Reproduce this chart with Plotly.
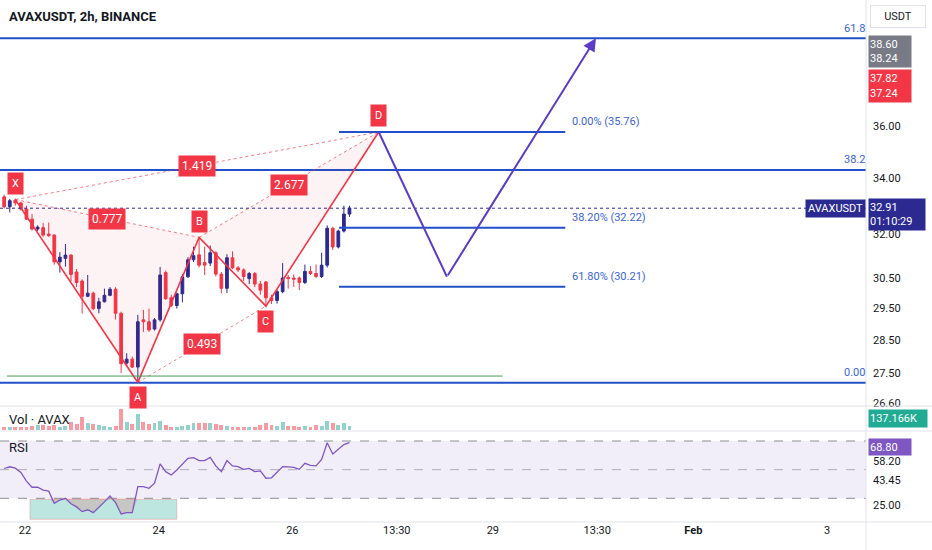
import numpy as np
import pandas as pd
import plotly.graph_objects as go

W, H = 932, 550
PLOT_W, PLOT_H = 866, 522   # plot area in px (price scale on the right, time scale below)

title_text = "AVAXUSDT, 2h, BINANCE"

# 2h candles
candle_start = "2024-01-21 16:30"
opens = [33.32, 32.96, 33.20, 33.10, 32.88, 32.52, 32.17, 32.22, 32.00, 31.96,
         31.04, 31.16, 31.27, 30.70, 30.40, 29.90, 30.00, 29.50, 29.72, 29.93,
         30.13, 29.35, 27.80, 27.92, 27.68, 29.14, 29.08, 28.85, 29.14, 30.68,
         29.85, 29.60, 29.98, 30.54, 31.11, 31.28, 31.02, 31.00, 31.35, 30.63,
         30.16, 31.18, 30.84, 30.77, 30.48, 30.65, 30.30, 30.37, 29.85, 29.76,
         30.05, 30.52, 30.50, 30.50, 30.35, 30.72, 30.65, 30.55, 30.93, 32.20,
         31.55, 32.10, 32.70]
highs = [33.40, 33.24, 33.26, 33.14, 33.00, 32.70, 32.30, 32.38, 32.40, 31.98,
         31.37, 31.65, 31.30, 30.80, 30.46, 30.60, 30.05, 29.85, 30.15, 30.20,
         30.20, 29.40, 28.10, 28.00, 29.30, 29.46, 29.50, 29.20, 30.87, 30.75,
         29.95, 30.02, 30.63, 31.20, 31.56, 31.88, 31.56, 31.60, 31.40, 30.70,
         31.30, 31.40, 30.90, 30.82, 30.70, 30.70, 30.40, 30.40, 29.95, 30.12,
         31.00, 30.60, 30.62, 30.55, 30.95, 30.90, 30.95, 31.35, 32.30, 32.25,
         32.15, 33.00, 33.00]
lows = [32.90, 32.76, 33.00, 32.82, 32.50, 32.12, 32.10, 31.90, 31.90, 30.95,
        30.68, 30.88, 30.40, 30.20, 29.34, 29.87, 29.45, 29.35, 29.70, 29.90,
        29.15, 27.50, 27.70, 27.65, 27.22, 28.76, 28.76, 28.80, 29.08, 29.78,
        29.55, 29.50, 29.70, 30.50, 31.04, 30.85, 30.60, 30.90, 30.55, 30.00,
        30.00, 30.80, 30.70, 30.40, 30.30, 30.20, 29.95, 29.58, 29.65, 29.66,
        30.00, 30.15, 30.20, 30.10, 30.30, 30.60, 30.50, 30.50, 30.85, 31.45,
        31.50, 32.05, 32.60]
closes = [32.96, 33.18, 33.10, 32.88, 32.52, 32.17, 32.24, 31.96, 31.94, 31.04,
          31.20, 31.27, 30.62, 30.35, 29.90, 30.00, 29.50, 29.72, 29.93, 30.13,
          29.35, 27.78, 27.92, 27.68, 29.08, 29.08, 28.82, 29.14, 30.60, 29.82,
          29.60, 29.98, 30.54, 31.11, 31.25, 30.93, 30.93, 31.35, 30.63, 30.16,
          31.18, 30.84, 30.77, 30.55, 30.65, 30.30, 30.10, 29.85, 29.76, 30.05,
          30.50, 30.48, 30.46, 30.35, 30.72, 30.65, 30.55, 30.93, 32.20, 31.55,
          32.10, 32.70, 32.91]
volumes = [10, 8, 8, 8, 10, 12, 15, 15, 12, 14,
           10, 12, 25, 18, 38, 22, 17, 15, 12, 10,
           12, 62, 25, 18, 48, 25, 18, 20, 28, 15,
           10, 10, 12, 15, 22, 22, 22, 22, 18, 15,
           12, 10, 10, 10, 10, 10, 15, 20, 15, 12,
           25, 12, 12, 10, 12, 8, 15, 12, 28, 22,
           15, 22, 12]
rsi = [50.8, 52, 51, 48, 42, 37.7, 37.7, 35.7, 35, 26.5,
       28.8, 30, 26.2, 24, 20.7, 22, 20, 23.5, 27.5, 31.6,
       27, 19.1, 20, 20, 38.1, 38.1, 37, 40.5, 54, 48.6,
       46.3, 49.8, 54, 57.9, 58.4, 56.3, 56.3, 58.6, 52.6, 48.6,
       56.3, 52.6, 52.1, 50.2, 50.9, 48.6, 49.1, 44, 44.3, 48,
       52.1, 52, 51.6, 50.2, 54.4, 53, 52.6, 57.2, 68.8, 60.9,
       64.5, 67.5, 68.8]
last_price = 32.91

# XABCD pattern
pat_names = ["X", "A", "B", "C", "D"]
pat_times = ["2024-01-21 20:30", "2024-01-23 16:30", "2024-01-24 14:30",
             "2024-01-25 14:30", "2024-01-27 07:00"]
pat_prices = [33.22, 27.22, 31.88, 29.58, 35.76]
pat_label_below = [False, True, False, True, False]
ratio_from = [0, 1, 2, 0]
ratio_to = [2, 3, 4, 4]
ratio_text = ["0.777", "0.493", "2.677", "1.419"]

# projected path
proj_times = ["2024-01-27 07:00", "2024-01-28 07:30", "2024-01-30 13:00"]
proj_prices = [35.76, 30.54, 39.61]

# fib retracement (short)
fib_x = ["2024-01-26 16:45", "2024-01-30 02:00"]
fib_levels = [35.76, 32.22, 30.21]
fib_labels = ["0.00% (35.76)", "38.20% (32.22)", "61.80% (30.21)"]

# fib levels across the whole chart
long_levels = [39.61, 34.31, 27.21]
long_labels = ["61.8", "38.2", "0.00"]

green_x = ["2024-01-21 17:30", "2024-01-29 03:30"]
green_level = 27.41

rsi_box_x = ["2024-01-22 01:45", "2024-01-24 06:30"]
rsi_box_y = [15.3, 29.3]

price_ticks = [26.6, 27.5, 28.5, 29.5, 30.5, 32, 34, 36]
rsi_ticks = [25, 43.45, 58.2]
rsi_tick_shift = [0, -1, -4]
time_ticks = ["2024-01-22", "2024-01-24", "2024-01-26", "2024-01-27 13:30",
              "2024-01-29", "2024-01-30 13:30", "2024-02-01", "2024-02-03"]
time_labels = ["22", "24", "26", "13:30", "29", "13:30", "<b>Feb</b>", "3"]
x_range = ["2024-01-21 15:00", "2024-02-03 14:00"]

UP = "#2B2A91"
DOWN = "#F23645"
BLUE = "#2250C8"
BLUE_TXT = "#3C64D8"
PURPLE = "#5B3CC4"
FONT = "Roboto, sans-serif"

times = pd.date_range(candle_start, periods=len(opens), freq="2h")
up = np.array(closes) >= np.array(opens)


def py(p):
    # pixel row -> paper fraction
    return (PLOT_H - p) / PLOT_H


fig = go.Figure()

fig.add_trace(go.Candlestick(
    x=times, open=opens, high=highs, low=lows, close=closes,
    increasing=dict(line=dict(color=UP, width=1), fillcolor=UP),
    decreasing=dict(line=dict(color=DOWN, width=1), fillcolor=DOWN),
    whiskerwidth=0, yaxis="y", showlegend=False))

# long fib lines
for lv in long_levels:
    fig.add_trace(go.Scatter(x=x_range, y=[lv, lv], mode="lines",
                             line=dict(color=BLUE, width=2), yaxis="y", showlegend=False))

# pattern fills
pt = pd.to_datetime(pat_times)
for tri in ([0, 1, 2], [2, 3, 4]):
    fig.add_trace(go.Scatter(x=[pt[i] for i in tri] + [pt[tri[0]]],
                             y=[pat_prices[i] for i in tri] + [pat_prices[tri[0]]],
                             mode="lines", fill="toself", fillcolor="rgba(242,54,69,0.06)",
                             line=dict(width=0), yaxis="y", showlegend=False))
for a, b in zip(ratio_from, ratio_to):
    fig.add_trace(go.Scatter(x=[pt[a], pt[b]], y=[pat_prices[a], pat_prices[b]], mode="lines",
                             line=dict(color="rgba(242,54,69,0.65)", width=1, dash="dot"),
                             yaxis="y", showlegend=False))
fig.add_trace(go.Scatter(x=pt, y=pat_prices, mode="lines", line=dict(color=DOWN, width=1.6),
                         yaxis="y", showlegend=False))

# short fib lines
for lv in fib_levels:
    fig.add_trace(go.Scatter(x=fib_x, y=[lv, lv], mode="lines",
                             line=dict(color=BLUE, width=2), yaxis="y", showlegend=False))

fig.add_trace(go.Scatter(x=green_x, y=[green_level, green_level], mode="lines",
                         line=dict(color="#3E9E5C", width=1), yaxis="y", showlegend=False))
fig.add_trace(go.Scatter(x=x_range, y=[last_price, last_price], mode="lines",
                         line=dict(color=UP, width=1, dash="dot"), yaxis="y", showlegend=False))

# projection
fig.add_trace(go.Scatter(x=proj_times[:2], y=proj_prices[:2], mode="lines",
                         line=dict(color=PURPLE, width=2), yaxis="y", showlegend=False))

# volume
vol_colors = ["rgba(38,166,154,0.5)" if u else "rgba(242,54,69,0.5)" for u in up]
fig.add_trace(go.Bar(x=times, y=volumes, marker=dict(color=vol_colors, line=dict(width=0)),
                     width=2 * 3600 * 1000 * 0.7, yaxis="y2", showlegend=False))

# rsi
fig.add_trace(go.Scatter(x=times, y=[30] * len(rsi), mode="lines", line=dict(width=0),
                         yaxis="y3", showlegend=False))
fig.add_trace(go.Scatter(x=times, y=np.minimum(rsi, 30), mode="lines", line=dict(width=0),
                         fill="tonexty", fillcolor="rgba(242,54,69,0.18)",
                         yaxis="y3", showlegend=False))
fig.add_trace(go.Scatter(x=times, y=rsi, mode="lines", line=dict(color="#7E57C2", width=1.3),
                         yaxis="y3", showlegend=False))

shapes = [
    dict(type="rect", xref="paper", yref="y3", x0=0, x1=1, y0=30, y1=70,
         fillcolor="rgba(126,87,194,0.1)", line=dict(width=0), layer="below"),
    dict(type="rect", xref="x", yref="y3", x0=rsi_box_x[0], x1=rsi_box_x[1],
         y0=rsi_box_y[0], y1=rsi_box_y[1], fillcolor="rgba(34,171,148,0.3)",
         line=dict(color="rgba(242,54,69,0.25)", width=1), layer="below"),
]
for lv, col in ((70, "#8A8D96"), (50, "rgba(120,123,134,0.55)"), (30, "#8A8D96")):
    shapes.append(dict(type="line", xref="paper", yref="y3", x0=0, x1=1, y0=lv, y1=lv,
                       line=dict(color=col, width=1, dash="dash")))
full_w = W / PLOT_W
for p in (406, 431, PLOT_H):
    shapes.append(dict(type="line", xref="paper", yref="paper", x0=0, x1=full_w,
                       y0=py(p), y1=py(p), line=dict(color="#E0E3EB", width=1)))
shapes.append(dict(type="line", xref="paper", yref="paper", x0=1, x1=1, y0=py(H), y1=1,
                   line=dict(color="#E0E3EB", width=1)))

ann = []
ann.append(dict(xref="paper", yref="paper", x=7 / PLOT_W, y=py(16), xanchor="left",
                yanchor="middle", text="<b>" + title_text + "</b>", showarrow=False,
                font=dict(size=13, color="#131722")))
ann.append(dict(xref="paper", yref="paper", x=7 / PLOT_W, y=py(419), xanchor="left",
                yanchor="middle", text="Vol · AVAX", showarrow=False,
                font=dict(size=13, color="#131722")))
ann.append(dict(xref="paper", yref="paper", x=7 / PLOT_W, y=py(447), xanchor="left",
                yanchor="middle", text="RSI", showarrow=False,
                font=dict(size=13, color="#131722")))

# pattern labels
for n, t, p, below in zip(pat_names, pt, pat_prices, pat_label_below):
    ann.append(dict(x=t, y=np.log10(p), xref="x", yref="y", text=n, showarrow=False,
                    bgcolor=DOWN, font=dict(color="white", size=11), borderpad=4,
                    yshift=-15 if below else 16))
for a, b, txt in zip(ratio_from, ratio_to, ratio_text):
    tm = pt[a] + (pt[b] - pt[a]) / 2
    pm = np.sqrt(pat_prices[a] * pat_prices[b])
    ann.append(dict(x=tm, y=np.log10(pm), xref="x", yref="y", text=txt, showarrow=False,
                    bgcolor=DOWN, font=dict(color="white", size=12), borderpad=3))

# projection arrow
ann.append(dict(x=proj_times[2], y=np.log10(proj_prices[2]), ax=proj_times[1],
                ay=np.log10(proj_prices[1]), xref="x", yref="y", axref="x", ayref="y",
                showarrow=True, arrowhead=2, arrowsize=1.3, arrowwidth=2, arrowcolor=PURPLE,
                standoff=0, text=""))

for lv, txt in zip(fib_levels, fib_labels):
    ann.append(dict(x=fib_x[1], y=np.log10(lv), xref="x", yref="y", text=txt,
                    showarrow=False, xanchor="left", xshift=5, yshift=10,
                    font=dict(color=BLUE_TXT, size=11)))
for lv, txt in zip(long_levels, long_labels):
    ann.append(dict(x=1, y=np.log10(lv), xref="paper", yref="y", text=txt,
                    showarrow=False, xanchor="right", xshift=1, yshift=10,
                    font=dict(color=BLUE_TXT, size=11)))

# rsi scale labels
for v, s in zip(rsi_ticks, rsi_tick_shift):
    ann.append(dict(x=1, y=v, xref="paper", yref="y3", text="%.2f" % v, showarrow=False,
                    xanchor="left", xshift=5, yshift=s, font=dict(color="#131722", size=11)))


# price scale tags
def tag(text, p, bg, w, h, xshift=2, fg="white", border=None):
    d = dict(xref="paper", yref="paper", x=1, y=py(p), xanchor="left", yanchor="middle",
             xshift=xshift, text=text, showarrow=False, bgcolor=bg, width=w, height=h,
             align="left", font=dict(color=fg, size=11), borderpad=1)
    if border:
        d.update(bordercolor=border, borderwidth=1, align="center")
    return d


ann.append(tag("USDT", 16, "white", 52, 19, xshift=4, fg="#131722", border="#E0E3EB"))
ann.append(tag("38.60<br>38.24", 52, "#787B86", 40, 29))
ann.append(tag("37.82<br>37.24", 86, DOWN, 40, 30))
ann.append(tag("32.91<br>01:10:29", 214, UP, 54, 29))
ann.append(tag("137.166K", 418, "#22AB94", 56, 15))
ann.append(tag("68.80", 447, "#7E57C2", 40, 14))
ann.append(dict(xref="paper", yref="y", x=1, y=np.log10(last_price), xanchor="right",
                yanchor="middle", text="AVAXUSDT", showarrow=False, bgcolor=UP,
                font=dict(color="white", size=11), borderpad=2))

fig.update_layout(
    width=W, height=H, margin=dict(l=0, r=W - PLOT_W, t=0, b=H - PLOT_H),
    paper_bgcolor="white", plot_bgcolor="white", font=dict(family=FONT, color="#131722"),
    showlegend=False, bargap=0, shapes=shapes, annotations=ann, hovermode=False,
    xaxis=dict(type="date", range=x_range, anchor="y3", domain=[0, 1],
               tickvals=time_ticks, ticktext=time_labels, showgrid=False, zeroline=False,
               ticks="", tickfont=dict(size=11, color="#131722"), rangeslider=dict(visible=False)),
    yaxis=dict(type="log", domain=[py(406), 1], anchor="x", side="right",
               range=[np.log10(26.53), np.log10(41.29)], tickvals=price_ticks,
               ticktext=["%.2f" % v for v in price_ticks], showgrid=False, zeroline=False,
               ticks="", ticklabelstandoff=6, tickfont=dict(size=11, color="#131722")),
    yaxis2=dict(domain=[py(430), py(407)], anchor="x", side="right", range=[0, 69],
                showticklabels=False, showgrid=False, zeroline=False),
    yaxis3=dict(domain=[0, py(432)], anchor="x", side="right", range=[13.46, 76.28],
                showticklabels=False, showgrid=False, zeroline=False),
)

fig.write_html("out.html", config={"displayModeBar": False},
               post_script="document.body.style.margin='0px';")
